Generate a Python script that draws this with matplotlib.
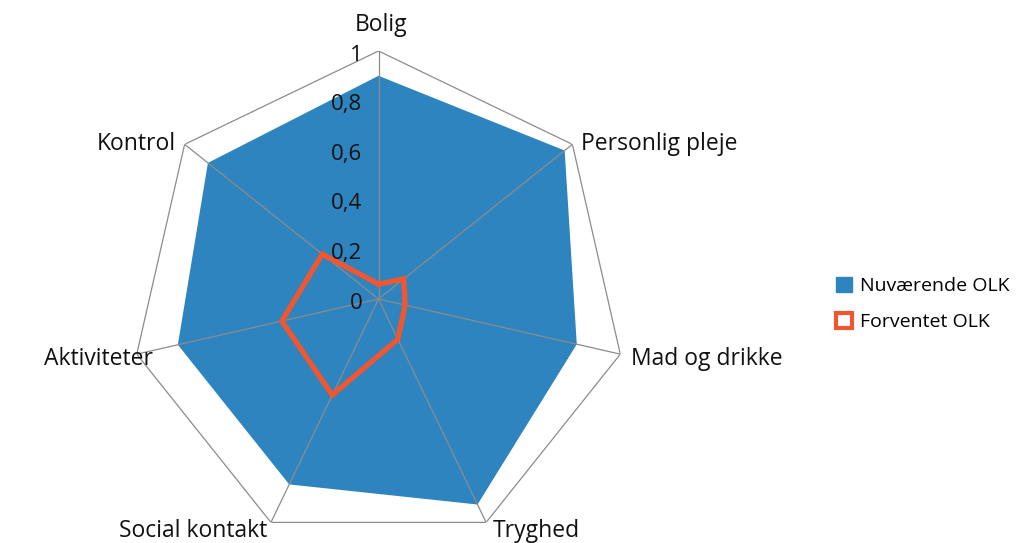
import numpy as np
import matplotlib
matplotlib.use("Agg")
import matplotlib.pyplot as plt
from matplotlib.patches import Patch

# data
kategorier = ["Bolig", "Personlig pleje", "Mad og drikke", "Tryghed",
              "Social kontakt", "Aktiviteter", "Kontrol"]
nuvaerende = [0.90, 0.96, 0.82, 0.92, 0.83, 0.83, 0.88]
forventet = [0.06, 0.13, 0.11, 0.18, 0.43, 0.40, 0.29]
r_ticks = [0, 0.2, 0.4, 0.6, 0.8, 1]
r_tick_labels = ["0", "0,2", "0,4", "0,6", "0,8", "1"]

plt.rcParams['font.family'] = ['Open Sans', 'DejaVu Sans']

blaa = '#2E84BE'
orange = '#F0562F'
graa = '#8C8C8C'

n = len(kategorier)
theta = np.arange(n) * 2 * np.pi / n
theta_c = np.append(theta, theta[0])

fig = plt.figure(figsize=(10.3, 5.43), dpi=100)
ax = fig.add_axes([0.1267, -0.0073, 0.4816, 0.9134], projection='polar')
ax.set_theta_zero_location('N')
ax.set_theta_direction(-1)
ax.set_ylim(0, 1)
ax.grid(False)
ax.spines['polar'].set_visible(False)
ax.set_xticks([])
ax.set_yticks([])
ax.patch.set_alpha(0)

# blue area
ax.fill(theta_c, nuvaerende + [nuvaerende[0]], color=blaa, lw=0, zorder=2)

# outer polygon + spokes
ax.plot(theta_c, [1] * (n + 1), color=graa, lw=0.9, zorder=3)
for t in theta:
    ax.plot([t, t], [0, 1], color=graa, lw=0.9, zorder=3)

# orange line
ax.plot(theta_c, forventet + [forventet[0]], color=orange, lw=3.8,
        solid_joinstyle='miter', zorder=4)

# radial tick labels along Bolig spoke
for v, lab in zip(r_ticks, r_tick_labels):
    ax.annotate(lab, (0, v), xytext=(-11.5, -3), textcoords='offset points',
                ha='right', va='center', fontsize=16, color='#111111', zorder=5)

# category labels
offs = [(1.5, 19, 'center'), (6, 0, 'left'), (8, -3.6, 'left'), (5, -6.5, 'left'),
        (-3, -6.5, 'right'), (11.5, -3.6, 'right'), (-6, 0, 'right')]
for t, lab, (dx, dy, ha) in zip(theta, kategorier, offs):
    ax.annotate(lab, (t, 1), xytext=(dx, dy), textcoords='offset points',
                ha=ha, va='center', fontsize=16.5, color='#111111',
                annotation_clip=False)

handles = [Patch(facecolor=blaa, edgecolor=blaa, label='Nuværende OLK'),
           Patch(facecolor='white', edgecolor=orange, lw=3, label='Forventet OLK')]
fig.legend(handles=handles, loc='center left', bbox_to_anchor=(0.795, 0.44),
           frameon=False, fontsize=14, handlelength=0.8, handleheight=0.8,
           handletextpad=0.4, labelspacing=0.9)

fig.savefig('out.png', dpi=100)
